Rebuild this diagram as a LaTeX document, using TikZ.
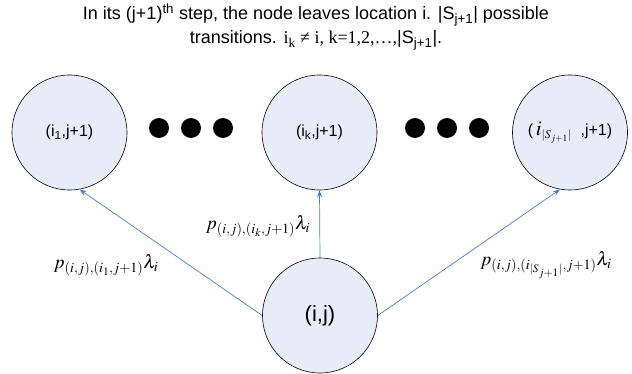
\documentclass[tikz,border=0pt]{standalone}
\usepackage{mathptmx}
\usepackage[no-math]{fontspec}
\setmainfont{Liberation Sans}
\newfontfamily\timesf{Liberation Serif}
\usetikzlibrary{arrows.meta}
\definecolor{nodefill}{HTML}{E7EDF8}
\definecolor{arrowblue}{HTML}{4A7CC8}
\tikzset{
  state/.style={circle, draw=black, fill=nodefill, line width=0.6pt, minimum size=115pt, inner sep=0pt, font=\fontsize{16}{18}\selectfont},
  bigdot/.style={circle, fill=black, minimum size=20pt, inner sep=0pt},
  trans/.style={draw=arrowblue, line width=0.7pt, -{Stealth[length=7pt,width=5pt]}},
  rate/.style={inner sep=0pt, font=\fontsize{19}{21}\selectfont},
  title/.style={align=center, font=\fontsize{18}{24}\selectfont}
}
\begin{document}
\begin{tikzpicture}[x=1pt,y=-1pt]
\useasboundingbox (0,0) rectangle (632,374);
\node[title] (t) at (316,27) {In its (j+1)\textsuperscript{th} step, the node leaves location i. |S\textsubscript{j+1}| possible\\transitions. {\timesf i\textsubscript{k} ≠ i, k=1,2,…,}|S\textsubscript{j+1}|.};
\node[state] (a) at (69.5,132.5) {(i\textsubscript{1},j+1)};
\node[state] (b) at (319.5,132.5) {(i\textsubscript{k},j+1)};
\node[state] (c) at (570,132.5) {(\,$\mbox{\fontsize{21}{22}\selectfont$i$}_{|S_{j+1}|}$\ \ ,j+1)};
\node[state, font=\fontsize{22}{24}\selectfont] (s) at (320,315.5) {(i,j)};
\node[bigdot] (d1) at (159,128) {};
\node[bigdot] (d2) at (191,128) {};
\node[bigdot] (d3) at (223,128) {};
\node[bigdot] (d4) at (415,128) {};
\node[bigdot] (d5) at (447,128) {};
\node[bigdot] (d6) at (479,128) {};
\draw[trans] (s.west) -- (a.280);
\draw[trans] (s.north) -- (b.south);
\draw[trans] (s.east) -- (c.260);
\node[rate] (la) at (106,265) {$p_{(i,j),(i_1,j+1)}\lambda_i$};
\node[rate] (lb) at (258,226) {$p_{(i,j),(i_k,j+1)}\lambda_i$};
\node[rate] (lc) at (546,265) {$p_{(i,j),(i_{|S_{j+1}|},j+1)}\lambda_i$};
\end{tikzpicture}
\end{document}
